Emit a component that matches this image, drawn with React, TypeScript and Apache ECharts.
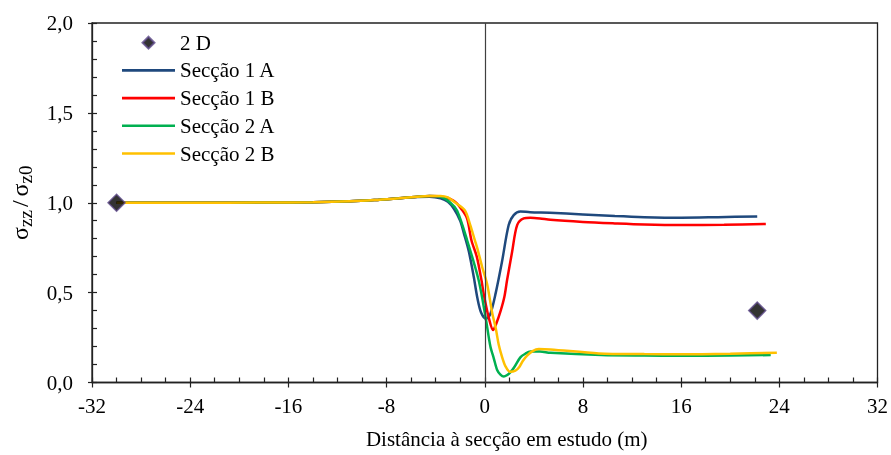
import React, { useEffect, useRef } from "react";
import * as echarts from "echarts";

// ---- data (x: distance in m, y: sigma_zz / sigma_z0) ----
const X_1A = [-30, -24, -18, -14, -11, -9, -7, -5.5, -4.5, -3.6, -3.0, -2.5, -2.0, -1.7, -1.3, -0.9, -0.6, -0.3, 0.1, 0.45, 0.9, 1.4, 1.95, 2.36, 2.9, 3.7, 5.3, 8, 10.6, 13, 16, 19, 22.2];
const Y_1A = [1.0, 1.0, 1.001, 1.003, 1.008, 1.015, 1.025, 1.032, 1.034, 1.025, 1.005, 0.965, 0.9, 0.83, 0.73, 0.59, 0.47, 0.39, 0.355, 0.38, 0.5, 0.67, 0.876, 0.931, 0.952, 0.947, 0.944, 0.935, 0.926, 0.92, 0.917, 0.92, 0.924];

const X_1B = [-30, -24, -18, -14, -11, -9, -7, -5.5, -4.5, -3.6, -2.5, -1.84, -1.43, -1.08, -0.65, -0.27, -0.05, 0.33, 0.68, 0.95, 1.3, 1.6, 1.82, 2.23, 2.64, 3.18, 3.72, 4.5, 5.35, 8, 10.6, 13, 16, 19.5, 22.9];
const Y_1B = [1.0, 1.0, 1.001, 1.003, 1.008, 1.015, 1.025, 1.033, 1.037, 1.035, 1.01, 0.959, 0.91, 0.79, 0.7, 0.57, 0.48, 0.36, 0.292, 0.33, 0.4, 0.477, 0.57, 0.727, 0.876, 0.913, 0.917, 0.913, 0.905, 0.893, 0.885, 0.879, 0.876, 0.878, 0.882];

const X_2A = [-30, -24, -18, -14, -11, -9, -7, -5.5, -4.5, -3.6, -2.8, -2.25, -1.43, -0.5, 0.06, 0.46, 0.73, 1.01, 1.3, 1.55, 1.8, 2.1, 2.4, 2.9, 3.3, 3.72, 4.5, 5.35, 9.5, 13, 16, 20, 23.3];
const Y_2A = [1.0, 1.0, 1.001, 1.003, 1.008, 1.015, 1.025, 1.033, 1.037, 1.033, 1.0, 0.955, 0.79, 0.57, 0.366, 0.2, 0.136, 0.07, 0.042, 0.033, 0.04, 0.058, 0.085, 0.14, 0.16, 0.172, 0.172, 0.165, 0.153, 0.15, 0.149, 0.15, 0.153];

const X_2B = [-30, -24, -18, -14, -11, -9, -7, -5.5, -4.5, -3.6, -3.0, -2.5, -1.63, -1.2, -0.81, -0.6, -0.2, 0.2, 0.6, 0.9, 1.14, 1.42, 1.69, 2.05, 2.5, 2.8, 3.1, 3.45, 3.9, 4.4, 5.35, 9.3, 13, 16, 20, 23.8];
const Y_2B = [1.0, 1.0, 1.001, 1.003, 1.008, 1.015, 1.025, 1.033, 1.037, 1.038, 1.03, 1.005, 0.959, 0.88, 0.792, 0.745, 0.64, 0.545, 0.39, 0.3, 0.21, 0.14, 0.09, 0.06, 0.066, 0.085, 0.12, 0.15, 0.175, 0.186, 0.184, 0.162, 0.158, 0.157, 0.16, 0.166];

const X_2D = [-30, 22.2];
const Y_2D = [1.0, 0.4];

const SERIES_NAMES = ["2 D", "Secção 1 A", "Secção 1 B", "Secção 2 A", "Secção 2 B"];
const COLORS = ["#000000", "#1F497D", "#FF0000", "#00B050", "#FFC000"];

const zip = (xs: number[], ys: number[]) => xs.map((x, i) => [x, ys[i]]);

const FONT = "Liberation Serif";
const FS = 21;

export default function App() {
  const ref = useRef<HTMLDivElement>(null);
  useEffect(() => {
    const chart = echarts.init(ref.current!, null, { renderer: "svg" });
    const lineSeries = (name: string, color: string, xs: number[], ys: number[], extra: any = {}) => ({
      name,
      type: "line",
      data: zip(xs, ys),
      showSymbol: false,
      symbol: "none",
      smooth: 0.3,
      lineStyle: { color, width: 2.5 },
      itemStyle: { color },
      z: 3,
      ...extra,
    });
    const LINE_ICON = "path://M0,0H53V2.6H0Z";
    const DIAMOND_ICON = "path://M6,0L12,6L6,12L0,6Z";
    const option: any = {
      animation: false,
      textStyle: { fontFamily: FONT },
      grid: {
        left: 91,
        right: 13.5,
        top: 23,
        bottom: 72.5,
        show: true,
        borderColor: "#222",
        borderWidth: 1.3,
        backgroundColor: "transparent",
      },
      legend: {
        orient: "vertical",
        left: 122,
        top: 30.7,
        padding: 0,
        itemWidth: 53,
        itemHeight: 12,
        itemGap: 3.7,
        symbolKeepAspect: true,
        textStyle: { fontFamily: FONT, fontSize: FS, color: "#000", lineHeight: 24 },
        data: SERIES_NAMES.map((n, i) => ({ name: n, icon: i === 0 ? DIAMOND_ICON : LINE_ICON })),
      },
      xAxis: [
        {
          type: "value",
          min: -32,
          max: 32,
          interval: 8,
          axisLine: { show: true, onZero: false, lineStyle: { color: "#222", width: 1.3 } },
          axisTick: { show: true, inside: true, length: 5, lineStyle: { color: "#222", width: 1.2 } },
          minorTick: { show: true, splitNumber: 4, length: 5, lineStyle: { color: "#222", width: 1.2 } },
          splitLine: { show: false },
          axisLabel: { fontFamily: FONT, fontSize: FS, color: "#000", margin: 13 },
          name: "Distância à secção em estudo (m)",
          nameLocation: "middle",
          nameGap: 46,
          nameTextStyle: { fontFamily: FONT, fontSize: FS, color: "#000", padding: [0, 0, 0, 44] },
        },
        {
          type: "value",
          min: -32,
          max: 32,
          interval: 8,
          position: "bottom",
          axisLine: { show: false, onZero: false },
          axisTick: { show: true, inside: false, length: 5, lineStyle: { color: "#222", width: 1.2 } },
          axisLabel: { show: false },
          splitLine: { show: false },
        },
      ],
      yAxis: [
        {
          type: "value",
          min: 0,
          max: 2,
          interval: 0.5,
          axisLine: { show: true, onZero: false, lineStyle: { color: "#222", width: 1.3 } },
          axisTick: { show: true, inside: true, length: 5, lineStyle: { color: "#222", width: 1.2 } },
          minorTick: { show: true, splitNumber: 5, length: 5, lineStyle: { color: "#222", width: 1.2 } },
          splitLine: { show: false },
          axisLabel: {
            fontFamily: FONT,
            fontSize: FS,
            color: "#000",
            margin: 19,
            formatter: (v: number) => v.toFixed(1).replace(".", ","),
          },
          name: "{a|σ}{b|zz}{c|/}{a|σ}{b|z0}",
          nameLocation: "middle",
          nameGap: 57,
          nameRotate: 90,
          nameTextStyle: {
            rich: {
              a: { fontFamily: FONT, fontSize: 24, color: "#000", lineHeight: 30, verticalAlign: "middle" },
              c: { fontFamily: FONT, fontSize: 24, color: "#000", lineHeight: 30, verticalAlign: "middle", padding: [0, 4, 0, 3] },
              b: { fontFamily: FONT, fontSize: 19, color: "#000", lineHeight: 18, verticalAlign: "bottom" },
            },
          },
        },
        {
          type: "value",
          min: 0,
          max: 2,
          interval: 0.5,
          position: "left",
          axisLine: { show: false, onZero: false },
          axisTick: { show: true, inside: false, length: 4, lineStyle: { color: "#222", width: 1.2 } },
          axisLabel: { show: false },
          splitLine: { show: false },
        },
      ],
      series: [
        {
          name: SERIES_NAMES[0],
          type: "scatter",
          data: zip(X_2D, Y_2D),
          symbol: "diamond",
          symbolSize: 17,
          itemStyle: { color: "#000", borderColor: "#5F4B8B", borderWidth: 1.5 },
          z: 10,
        },
        lineSeries(SERIES_NAMES[1], COLORS[1], X_1A, Y_1A, {
          markLine: {
            silent: true,
            symbol: "none",
            label: { show: false },
            lineStyle: { color: "#404040", width: 1.2, type: "solid" },
            data: [{ xAxis: 0 }],
          },
        }),
        lineSeries(SERIES_NAMES[2], COLORS[2], X_1B, Y_1B),
        lineSeries(SERIES_NAMES[3], COLORS[3], X_2A, Y_2A),
        lineSeries(SERIES_NAMES[4], COLORS[4], X_2B, Y_2B),
      ],
    };
    chart.setOption(option);
    return () => chart.dispose();
  }, []);
  return <div ref={ref} style={{ position: "fixed", left: 0, top: 0, width: 891, height: 455 }} />;
}
